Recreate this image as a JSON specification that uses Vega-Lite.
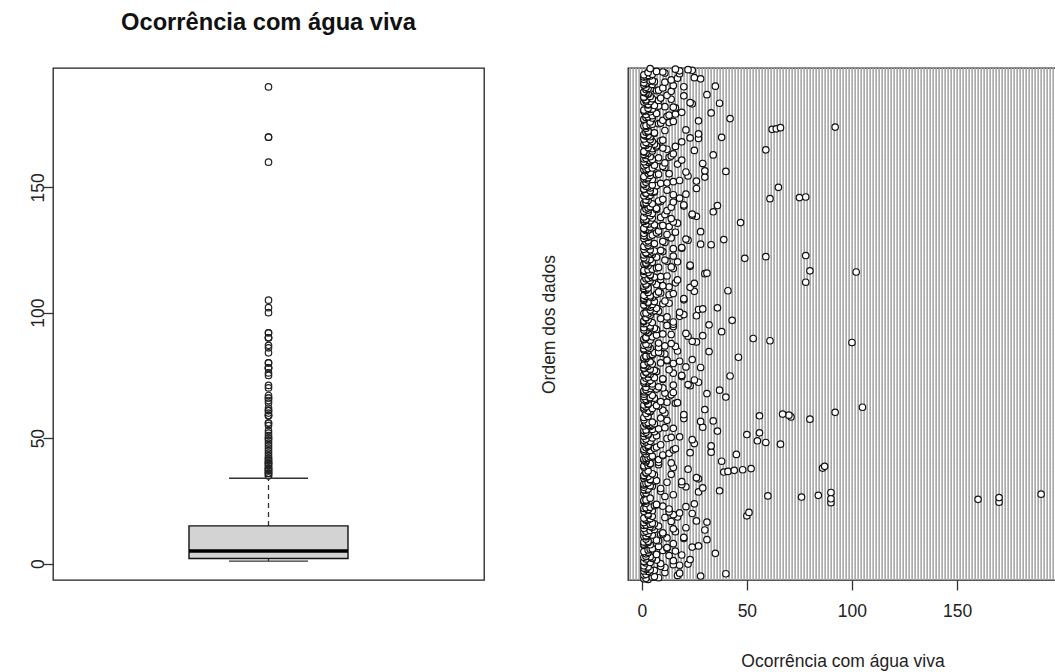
{
"$schema": "https://vega.github.io/schema/vega-lite/v6.json",
"background": "white",
"padding": {"left": 28, "top": 10, "right": 0, "bottom": 0},
"bounds": "flush",
"config": {
 "font": "Liberation Sans",
 "view": {"stroke": "#222", "strokeWidth": 1.3},
 "axis": {"grid": false, "domain": false, "tickSize": 10, "tickColor": "#333", "tickWidth": 1.3, "labelFont": "Liberation Sans", "labelFontSize": 17.5, "labelColor": "#222", "titleFont": "Liberation Sans", "titleFontSize": 17.5, "titleFontWeight": "normal", "titleColor": "#222"},
 "concat": {"spacing": 144}
},
"datasets": {"d": [
{"i":1,"v":3},{"i":2,"v":1},{"i":3,"v":2},{"i":4,"v":8},{"i":5,"v":5},{"i":6,"v":6},{"i":7,"v":28},{"i":8,"v":17},{"i":9,"v":1},{"i":10,"v":2},{"i":11,"v":40},{"i":12,"v":18},{"i":13,"v":11},{"i":14,"v":4},{"i":15,"v":3},
{"i":16,"v":1},{"i":17,"v":6},{"i":18,"v":4},{"i":19,"v":2},{"i":20,"v":2},{"i":21,"v":1},{"i":22,"v":11},{"i":23,"v":3},{"i":24,"v":9},{"i":25,"v":1},{"i":26,"v":18},{"i":27,"v":15},{"i":28,"v":22},{"i":29,"v":9},{"i":30,"v":2},
{"i":31,"v":4},{"i":32,"v":1},{"i":33,"v":1},{"i":34,"v":15},{"i":35,"v":7},{"i":36,"v":23},{"i":37,"v":2},{"i":38,"v":5},{"i":39,"v":5},{"i":40,"v":1},{"i":41,"v":4},{"i":42,"v":2},{"i":43,"v":13},{"i":44,"v":19},{"i":45,"v":7},
{"i":46,"v":2},{"i":47,"v":35},{"i":48,"v":3},{"i":49,"v":3},{"i":50,"v":1},{"i":51,"v":16},{"i":52,"v":10},{"i":53,"v":3},{"i":54,"v":4},{"i":55,"v":5},{"i":56,"v":12},{"i":57,"v":12},{"i":58,"v":24},{"i":59,"v":8},{"i":60,"v":27},
{"i":61,"v":1},{"i":62,"v":4},{"i":63,"v":1},{"i":64,"v":15},{"i":65,"v":2},{"i":66,"v":3},{"i":67,"v":1},{"i":68,"v":3},{"i":69,"v":8},{"i":70,"v":7},{"i":71,"v":31},{"i":72,"v":2},{"i":73,"v":20},{"i":74,"v":12},{"i":75,"v":20},
{"i":76,"v":2},{"i":77,"v":1},{"i":78,"v":2},{"i":79,"v":5},{"i":80,"v":9},{"i":81,"v":10},{"i":82,"v":3},{"i":83,"v":10},{"i":84,"v":1},{"i":85,"v":16},{"i":86,"v":2},{"i":87,"v":4},{"i":88,"v":30},{"i":89,"v":6},{"i":90,"v":15},
{"i":91,"v":1},{"i":92,"v":21},{"i":93,"v":5},{"i":94,"v":4},{"i":95,"v":8},{"i":96,"v":1},{"i":97,"v":2},{"i":98,"v":4},{"i":99,"v":6},{"i":100,"v":5},{"i":101,"v":1},{"i":102,"v":31},{"i":103,"v":14},{"i":104,"v":26},{"i":105,"v":2},
{"i":106,"v":3},{"i":107,"v":2},{"i":108,"v":4},{"i":109,"v":1},{"i":110,"v":11},{"i":111,"v":17},{"i":112,"v":5},{"i":113,"v":50},{"i":114,"v":3},{"i":115,"v":15},{"i":116,"v":3},{"i":117,"v":24},{"i":118,"v":18},{"i":119,"v":51},{"i":120,"v":13},
{"i":121,"v":1},{"i":122,"v":5},{"i":123,"v":3},{"i":124,"v":3},{"i":125,"v":13},{"i":126,"v":1},{"i":127,"v":2},{"i":128,"v":4},{"i":129,"v":21},{"i":130,"v":10},{"i":131,"v":6},{"i":132,"v":7},{"i":133,"v":7},{"i":134,"v":25},{"i":135,"v":2},
{"i":136,"v":90},{"i":137,"v":170},{"i":138,"v":1},{"i":139,"v":2},{"i":140,"v":1},{"i":141,"v":2},{"i":142,"v":160},{"i":143,"v":90},{"i":144,"v":4},{"i":145,"v":170},{"i":146,"v":76},{"i":147,"v":11},{"i":148,"v":60},{"i":149,"v":84},{"i":150,"v":15},
{"i":151,"v":190},{"i":152,"v":1},{"i":153,"v":2},{"i":154,"v":90},{"i":155,"v":27},{"i":156,"v":9},{"i":157,"v":37},{"i":158,"v":2},{"i":159,"v":1},{"i":160,"v":3},{"i":161,"v":9},{"i":162,"v":29},{"i":163,"v":1},{"i":164,"v":21},{"i":165,"v":5},
{"i":166,"v":4},{"i":167,"v":1},{"i":168,"v":19},{"i":169,"v":1},{"i":170,"v":2},{"i":171,"v":3},{"i":172,"v":12},{"i":173,"v":19},{"i":174,"v":6},{"i":175,"v":7},{"i":176,"v":4},{"i":177,"v":4},{"i":178,"v":27},{"i":179,"v":1},{"i":180,"v":26},
{"i":181,"v":2},{"i":182,"v":3},{"i":183,"v":1},{"i":184,"v":1},{"i":185,"v":6},{"i":186,"v":14},{"i":187,"v":5},{"i":188,"v":2},{"i":189,"v":2},{"i":190,"v":39},{"i":191,"v":41},{"i":192,"v":3},{"i":193,"v":44},{"i":194,"v":48},{"i":195,"v":22},
{"i":196,"v":52},{"i":197,"v":86},{"i":198,"v":15},{"i":199,"v":1},{"i":200,"v":87},{"i":201,"v":1},{"i":202,"v":3},{"i":203,"v":8},{"i":204,"v":4},{"i":205,"v":4},{"i":206,"v":14},{"i":207,"v":8},{"i":208,"v":2},{"i":209,"v":38},{"i":210,"v":2},
{"i":211,"v":1},{"i":212,"v":8},{"i":213,"v":1},{"i":214,"v":2},{"i":215,"v":3},{"i":216,"v":5},{"i":217,"v":4},{"i":218,"v":5},{"i":219,"v":10},{"i":220,"v":10},{"i":221,"v":45},{"i":222,"v":2},{"i":223,"v":13},{"i":224,"v":23},{"i":225,"v":33},
{"i":226,"v":2},{"i":227,"v":1},{"i":228,"v":4},{"i":229,"v":15},{"i":230,"v":1},{"i":231,"v":16},{"i":232,"v":6},{"i":233,"v":2},{"i":234,"v":7},{"i":235,"v":3},{"i":236,"v":33},{"i":237,"v":3},{"i":238,"v":9},{"i":239,"v":66},{"i":240,"v":25},
{"i":241,"v":1},{"i":242,"v":59},{"i":243,"v":2},{"i":244,"v":4},{"i":245,"v":55},{"i":246,"v":1},{"i":247,"v":24},{"i":248,"v":2},{"i":249,"v":12},{"i":250,"v":5},{"i":251,"v":14},{"i":252,"v":18},{"i":253,"v":1},{"i":254,"v":7},{"i":255,"v":3},
{"i":256,"v":50},{"i":257,"v":3},{"i":258,"v":1},{"i":259,"v":56},{"i":260,"v":2},{"i":261,"v":6},{"i":262,"v":36},{"i":263,"v":1},{"i":264,"v":2},{"i":265,"v":5},{"i":266,"v":8},{"i":267,"v":15},{"i":268,"v":11},{"i":269,"v":29},{"i":270,"v":4},
{"i":271,"v":1},{"i":272,"v":4},{"i":273,"v":5},{"i":274,"v":2},{"i":275,"v":6},{"i":276,"v":2},{"i":277,"v":3},{"i":278,"v":5},{"i":279,"v":28},{"i":280,"v":34},{"i":281,"v":12},{"i":282,"v":1},{"i":283,"v":80},{"i":284,"v":20},{"i":285,"v":9},
{"i":286,"v":1},{"i":287,"v":71},{"i":288,"v":3},{"i":289,"v":56},{"i":290,"v":70},{"i":291,"v":20},{"i":292,"v":67},{"i":293,"v":2},{"i":294,"v":11},{"i":295,"v":92},{"i":296,"v":4},{"i":297,"v":4},{"i":298,"v":3},{"i":299,"v":10},{"i":300,"v":30},
{"i":301,"v":1},{"i":302,"v":5},{"i":303,"v":1},{"i":304,"v":105},{"i":305,"v":2},{"i":306,"v":8},{"i":307,"v":7},{"i":308,"v":1},{"i":309,"v":3},{"i":310,"v":3},{"i":311,"v":16},{"i":312,"v":17},{"i":313,"v":12},{"i":314,"v":9},{"i":315,"v":2},
{"i":316,"v":2},{"i":317,"v":1},{"i":318,"v":2},{"i":319,"v":4},{"i":320,"v":6},{"i":321,"v":4},{"i":322,"v":40},{"i":323,"v":1},{"i":324,"v":13},{"i":325,"v":5},{"i":326,"v":14},{"i":327,"v":1},{"i":328,"v":31},{"i":329,"v":11},{"i":330,"v":15},
{"i":331,"v":1},{"i":332,"v":3},{"i":333,"v":1},{"i":334,"v":37},{"i":335,"v":2},{"i":336,"v":7},{"i":337,"v":4},{"i":338,"v":10},{"i":339,"v":2},{"i":340,"v":8},{"i":341,"v":5},{"i":342,"v":23},{"i":343,"v":15},{"i":344,"v":22},{"i":345,"v":5},
{"i":346,"v":2},{"i":347,"v":1},{"i":348,"v":27},{"i":349,"v":3},{"i":350,"v":1},{"i":351,"v":4},{"i":352,"v":25},{"i":353,"v":10},{"i":354,"v":10},{"i":355,"v":2},{"i":356,"v":6},{"i":357,"v":3},{"i":358,"v":19},{"i":359,"v":42},{"i":360,"v":19},
{"i":361,"v":1},{"i":362,"v":4},{"i":363,"v":3},{"i":364,"v":15},{"i":365,"v":2},{"i":366,"v":2},{"i":367,"v":7},{"i":368,"v":5},{"i":369,"v":6},{"i":370,"v":13},{"i":371,"v":4},{"i":372,"v":1},{"i":373,"v":1},{"i":374,"v":28},{"i":375,"v":21},
{"i":376,"v":3},{"i":377,"v":2},{"i":378,"v":1},{"i":379,"v":1},{"i":380,"v":5},{"i":381,"v":15},{"i":382,"v":9},{"i":383,"v":3},{"i":384,"v":4},{"i":385,"v":18},{"i":386,"v":12},{"i":387,"v":12},{"i":388,"v":24},{"i":389,"v":1},{"i":390,"v":2},
{"i":391,"v":1},{"i":392,"v":46},{"i":393,"v":2},{"i":394,"v":2},{"i":395,"v":4},{"i":396,"v":5},{"i":397,"v":5},{"i":398,"v":11},{"i":399,"v":9},{"i":400,"v":6},{"i":401,"v":8},{"i":402,"v":32},{"i":403,"v":17},{"i":404,"v":3},{"i":405,"v":1},
{"i":406,"v":2},{"i":407,"v":1},{"i":408,"v":4},{"i":409,"v":8},{"i":410,"v":3},{"i":411,"v":16},{"i":412,"v":11},{"i":413,"v":1},{"i":414,"v":3},{"i":415,"v":2},{"i":416,"v":14},{"i":417,"v":8},{"i":418,"v":100},{"i":419,"v":26},{"i":420,"v":24},
{"i":421,"v":61},{"i":422,"v":4},{"i":423,"v":1},{"i":424,"v":1},{"i":425,"v":53},{"i":426,"v":2},{"i":427,"v":2},{"i":428,"v":5},{"i":429,"v":22},{"i":430,"v":29},{"i":431,"v":7},{"i":432,"v":14},{"i":433,"v":10},{"i":434,"v":21},{"i":435,"v":3},
{"i":436,"v":3},{"i":437,"v":38},{"i":438,"v":2},{"i":439,"v":2},{"i":440,"v":1},{"i":441,"v":7},{"i":442,"v":5},{"i":443,"v":6},{"i":444,"v":1},{"i":445,"v":4},{"i":446,"v":15},{"i":447,"v":4},{"i":448,"v":12},{"i":449,"v":32},{"i":450,"v":15},
{"i":451,"v":1},{"i":452,"v":2},{"i":453,"v":5},{"i":454,"v":15},{"i":455,"v":1},{"i":456,"v":1},{"i":457,"v":43},{"i":458,"v":3},{"i":459,"v":11},{"i":460,"v":9},{"i":461,"v":2},{"i":462,"v":2},{"i":463,"v":12},{"i":464,"v":18},{"i":465,"v":26},
{"i":466,"v":4},{"i":467,"v":20},{"i":468,"v":3},{"i":469,"v":1},{"i":470,"v":2},{"i":471,"v":18},{"i":472,"v":5},{"i":473,"v":8},{"i":474,"v":6},{"i":475,"v":4},{"i":476,"v":27},{"i":477,"v":29},{"i":478,"v":7},{"i":479,"v":36},{"i":480,"v":4},
{"i":481,"v":2},{"i":482,"v":3},{"i":483,"v":2},{"i":484,"v":1},{"i":485,"v":5},{"i":486,"v":10},{"i":487,"v":13},{"i":488,"v":3},{"i":489,"v":3},{"i":490,"v":6},{"i":491,"v":11},{"i":492,"v":1},{"i":493,"v":20},{"i":494,"v":1},{"i":495,"v":20},
{"i":496,"v":1},{"i":497,"v":5},{"i":498,"v":4},{"i":499,"v":2},{"i":500,"v":4},{"i":501,"v":1},{"i":502,"v":13},{"i":503,"v":7},{"i":504,"v":15},{"i":505,"v":9},{"i":506,"v":3},{"i":507,"v":8},{"i":508,"v":25},{"i":509,"v":41},{"i":510,"v":2},
{"i":511,"v":2},{"i":512,"v":1},{"i":513,"v":1},{"i":514,"v":3},{"i":515,"v":23},{"i":516,"v":13},{"i":517,"v":1},{"i":518,"v":10},{"i":519,"v":2},{"i":520,"v":7},{"i":521,"v":2},{"i":522,"v":25},{"i":523,"v":16},{"i":524,"v":78},{"i":525,"v":5},
{"i":526,"v":1},{"i":527,"v":4},{"i":528,"v":17},{"i":529,"v":9},{"i":530,"v":2},{"i":531,"v":3},{"i":532,"v":5},{"i":533,"v":6},{"i":534,"v":9},{"i":535,"v":12},{"i":536,"v":4},{"i":537,"v":4},{"i":538,"v":1},{"i":539,"v":30},{"i":540,"v":31},
{"i":541,"v":3},{"i":542,"v":102},{"i":543,"v":1},{"i":544,"v":80},{"i":545,"v":1},{"i":546,"v":3},{"i":547,"v":5},{"i":548,"v":15},{"i":549,"v":7},{"i":550,"v":8},{"i":551,"v":14},{"i":552,"v":23},{"i":553,"v":3},{"i":554,"v":23},{"i":555,"v":2},
{"i":556,"v":1},{"i":557,"v":2},{"i":558,"v":2},{"i":559,"v":5},{"i":560,"v":17},{"i":561,"v":12},{"i":562,"v":3},{"i":563,"v":11},{"i":564,"v":4},{"i":565,"v":2},{"i":566,"v":49},{"i":567,"v":1},{"i":568,"v":7},{"i":569,"v":59},{"i":570,"v":15},
{"i":571,"v":78},{"i":572,"v":1},{"i":573,"v":5},{"i":574,"v":4},{"i":575,"v":2},{"i":576,"v":2},{"i":577,"v":5},{"i":578,"v":10},{"i":579,"v":6},{"i":580,"v":9},{"i":581,"v":4},{"i":582,"v":1},{"i":583,"v":15},{"i":584,"v":19},{"i":585,"v":19},
{"i":586,"v":2},{"i":587,"v":1},{"i":588,"v":4},{"i":589,"v":3},{"i":590,"v":33},{"i":591,"v":28},{"i":592,"v":6},{"i":593,"v":3},{"i":594,"v":11},{"i":595,"v":2},{"i":596,"v":10},{"i":597,"v":3},{"i":598,"v":22},{"i":599,"v":39},{"i":600,"v":21},
{"i":601,"v":1},{"i":602,"v":14},{"i":603,"v":3},{"i":604,"v":2},{"i":605,"v":4},{"i":606,"v":1},{"i":607,"v":5},{"i":608,"v":12},{"i":609,"v":8},{"i":610,"v":1},{"i":611,"v":7},{"i":612,"v":16},{"i":613,"v":28},{"i":614,"v":8},{"i":615,"v":2},
{"i":616,"v":3},{"i":617,"v":2},{"i":618,"v":1},{"i":619,"v":1},{"i":620,"v":5},{"i":621,"v":4},{"i":622,"v":13},{"i":623,"v":9},{"i":624,"v":10},{"i":625,"v":6},{"i":626,"v":3},{"i":627,"v":2},{"i":628,"v":17},{"i":629,"v":47},{"i":630,"v":15},
{"i":631,"v":1},{"i":632,"v":4},{"i":633,"v":2},{"i":634,"v":1},{"i":635,"v":2},{"i":636,"v":14},{"i":637,"v":5},{"i":638,"v":9},{"i":639,"v":1},{"i":640,"v":26},{"i":641,"v":4},{"i":642,"v":24},{"i":643,"v":11},{"i":644,"v":24},{"i":645,"v":5},
{"i":646,"v":2},{"i":647,"v":3},{"i":648,"v":34},{"i":649,"v":1},{"i":650,"v":12},{"i":651,"v":3},{"i":652,"v":7},{"i":653,"v":2},{"i":654,"v":7},{"i":655,"v":3},{"i":656,"v":14},{"i":657,"v":4},{"i":658,"v":20},{"i":659,"v":36},{"i":660,"v":20},
{"i":661,"v":1},{"i":662,"v":5},{"i":663,"v":1},{"i":664,"v":2},{"i":665,"v":15},{"i":666,"v":9},{"i":667,"v":8},{"i":668,"v":3},{"i":669,"v":2},{"i":670,"v":10},{"i":671,"v":61},{"i":672,"v":18},{"i":673,"v":75},{"i":674,"v":78},{"i":675,"v":3},
{"i":676,"v":1},{"i":677,"v":4},{"i":678,"v":15},{"i":679,"v":21},{"i":680,"v":2},{"i":681,"v":2},{"i":682,"v":5},{"i":683,"v":6},{"i":684,"v":6},{"i":685,"v":4},{"i":686,"v":12},{"i":687,"v":1},{"i":688,"v":1},{"i":689,"v":26},{"i":690,"v":4},
{"i":691,"v":65},{"i":692,"v":3},{"i":693,"v":2},{"i":694,"v":7},{"i":695,"v":5},{"i":696,"v":1},{"i":697,"v":1},{"i":698,"v":9},{"i":699,"v":12},{"i":700,"v":2},{"i":701,"v":15},{"i":702,"v":26},{"i":703,"v":18},{"i":704,"v":3},{"i":705,"v":5},
{"i":706,"v":1},{"i":707,"v":2},{"i":708,"v":3},{"i":709,"v":30},{"i":710,"v":1},{"i":711,"v":22},{"i":712,"v":4},{"i":713,"v":7},{"i":714,"v":8},{"i":715,"v":13},{"i":716,"v":3},{"i":717,"v":4},{"i":718,"v":21},{"i":719,"v":40},{"i":720,"v":30},
{"i":721,"v":2},{"i":722,"v":1},{"i":723,"v":2},{"i":724,"v":3},{"i":725,"v":5},{"i":726,"v":11},{"i":727,"v":8},{"i":728,"v":10},{"i":729,"v":1},{"i":730,"v":6},{"i":731,"v":2},{"i":732,"v":17},{"i":733,"v":29},{"i":734,"v":11},{"i":735,"v":3},
{"i":736,"v":1},{"i":737,"v":4},{"i":738,"v":4},{"i":739,"v":19},{"i":740,"v":5},{"i":741,"v":1},{"i":742,"v":2},{"i":743,"v":8},{"i":744,"v":13},{"i":745,"v":4},{"i":746,"v":14},{"i":747,"v":2},{"i":748,"v":34},{"i":749,"v":1},{"i":750,"v":15},
{"i":751,"v":3},{"i":752,"v":2},{"i":753,"v":1},{"i":754,"v":1},{"i":755,"v":5},{"i":756,"v":25},{"i":757,"v":59},{"i":758,"v":12},{"i":759,"v":5},{"i":760,"v":10},{"i":761,"v":3},{"i":762,"v":7},{"i":763,"v":16},{"i":764,"v":7},{"i":765,"v":2},
{"i":766,"v":1},{"i":767,"v":6},{"i":768,"v":3},{"i":769,"v":4},{"i":770,"v":2},{"i":771,"v":19},{"i":772,"v":5},{"i":773,"v":9},{"i":774,"v":10},{"i":775,"v":4},{"i":776,"v":1},{"i":777,"v":27},{"i":778,"v":23},{"i":779,"v":38},{"i":780,"v":4},
{"i":781,"v":2},{"i":782,"v":3},{"i":783,"v":1},{"i":784,"v":1},{"i":785,"v":27},{"i":786,"v":6},{"i":787,"v":6},{"i":788,"v":2},{"i":789,"v":3},{"i":790,"v":3},{"i":791,"v":11},{"i":792,"v":21},{"i":793,"v":62},{"i":794,"v":64},{"i":795,"v":2},
{"i":796,"v":66},{"i":797,"v":92},{"i":798,"v":2},{"i":799,"v":1},{"i":800,"v":2},{"i":801,"v":4},{"i":802,"v":5},{"i":803,"v":8},{"i":804,"v":9},{"i":805,"v":13},{"i":806,"v":4},{"i":807,"v":15},{"i":808,"v":27},{"i":809,"v":10},{"i":810,"v":1},
{"i":811,"v":1},{"i":812,"v":42},{"i":813,"v":5},{"i":814,"v":2},{"i":815,"v":3},{"i":816,"v":12},{"i":817,"v":5},{"i":818,"v":13},{"i":819,"v":2},{"i":820,"v":16},{"i":821,"v":7},{"i":822,"v":33},{"i":823,"v":19},{"i":824,"v":4},{"i":825,"v":1},
{"i":826,"v":2},{"i":827,"v":1},{"i":828,"v":4},{"i":829,"v":5},{"i":830,"v":3},{"i":831,"v":16},{"i":832,"v":15},{"i":833,"v":11},{"i":834,"v":8},{"i":835,"v":6},{"i":836,"v":3},{"i":837,"v":3},{"i":838,"v":24},{"i":839,"v":37},{"i":840,"v":23},
{"i":841,"v":1},{"i":842,"v":4},{"i":843,"v":2},{"i":844,"v":8},{"i":845,"v":2},{"i":846,"v":14},{"i":847,"v":5},{"i":848,"v":9},{"i":849,"v":1},{"i":850,"v":1},{"i":851,"v":4},{"i":852,"v":20},{"i":853,"v":12},{"i":854,"v":31},{"i":855,"v":3},
{"i":856,"v":3},{"i":857,"v":2},{"i":858,"v":1},{"i":859,"v":1},{"i":860,"v":14},{"i":861,"v":7},{"i":862,"v":8},{"i":863,"v":2},{"i":864,"v":4},{"i":865,"v":3},{"i":866,"v":10},{"i":867,"v":2},{"i":868,"v":20},{"i":869,"v":35},{"i":870,"v":15},
{"i":871,"v":1},{"i":872,"v":5},{"i":873,"v":2},{"i":874,"v":2},{"i":875,"v":1},{"i":876,"v":11},{"i":877,"v":6},{"i":878,"v":4},{"i":879,"v":5},{"i":880,"v":14},{"i":881,"v":1},{"i":882,"v":28},{"i":883,"v":17},{"i":884,"v":25},{"i":885,"v":1},
{"i":886,"v":2},{"i":887,"v":4},{"i":888,"v":3},{"i":889,"v":1},{"i":890,"v":5},{"i":891,"v":18},{"i":892,"v":11},{"i":893,"v":3},{"i":894,"v":10},{"i":895,"v":7},{"i":896,"v":18},{"i":897,"v":24},{"i":898,"v":22},{"i":899,"v":16},{"i":900,"v":4}
]},
"hconcat": [
 {
  "width": 431, "height": 512,
  "title": {"text": "Ocorrência com água viva", "font": "Liberation Sans", "fontSize": 23.7, "fontWeight": "bold", "anchor": "middle", "offset": 33, "color": "#111"},
  "data": {"name": "d"},
  "mark": {"type": "boxplot", "extent": 1.5, "size": 159,
   "box": {"color": "#d3d3d3", "fill": "#d3d3d3", "stroke": "#111", "strokeWidth": 1.4, "opacity": 1},
   "median": {"color": "#000", "thickness": 3.5, "opacity": 1},
   "rule": {"color": "#333", "strokeDash": [5, 4], "strokeWidth": 1.3, "opacity": 1},
   "ticks": {"color": "#333", "size": 79, "thickness": 1.3, "opacity": 1},
   "outliers": {"shape": "circle", "filled": false, "color": "#222", "size": 42, "strokeWidth": 1.2, "opacity": 1}},
  "encoding": {
   "y": {"field": "v", "type": "quantitative", "scale": {"domain": [-6.56, 197.56], "nice": false, "zero": false},
    "axis": {"values": [0, 50, 100, 150], "title": null, "labelAngle": -90, "labelAlign": "center", "labelBaseline": "alphabetic", "labelPadding": 0}}
  }
 },
 {
  "width": 429, "height": 512,
  "data": {"name": "d"},
  "layer": [
   {"mark": {"type": "rule", "color": "#a8a8a8", "strokeDash": [1.5, 1.5], "strokeWidth": 1},
    "encoding": {"y": {"field": "i", "type": "quantitative", "scale": {"domain": [0, 901], "nice": false, "zero": false},
     "axis": {"title": "Ordem dos dados", "labels": false, "ticks": false, "titlePadding": 70}}}},
   {"mark": {"type": "point", "shape": "circle", "filled": true, "fill": "white", "stroke": "#111", "strokeWidth": 1.2, "size": 42, "opacity": 1},
    "encoding": {
     "x": {"field": "v", "type": "quantitative", "scale": {"domain": [-6.56, 197.56], "nice": false, "zero": false},
      "axis": {"values": [0, 50, 100, 150], "title": "Ocorrência com água viva", "labelPadding": 12, "titlePadding": 33}},
     "y": {"field": "i", "type": "quantitative"}}}
  ]
 }
]
}
